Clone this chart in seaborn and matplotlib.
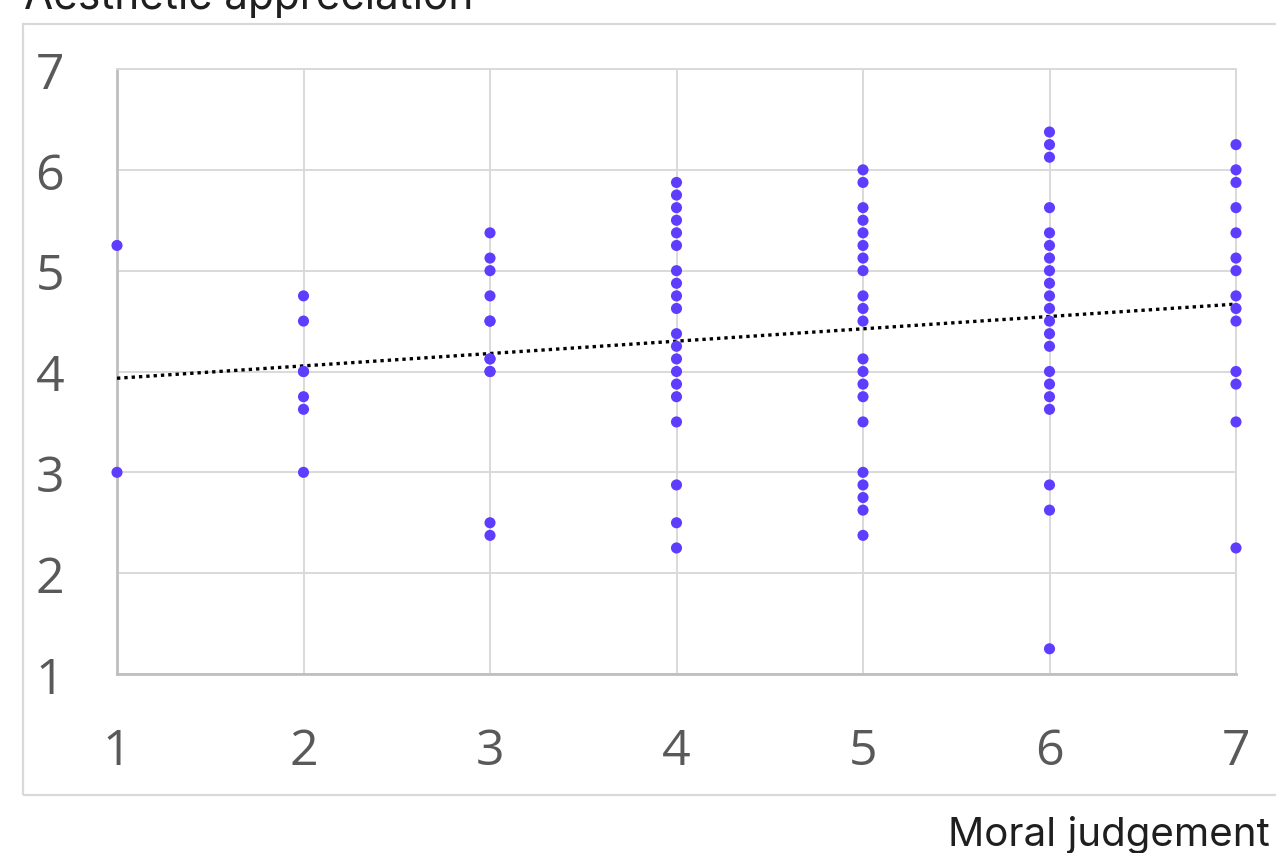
import numpy as np
import pandas as pd
import seaborn as sns
import matplotlib
matplotlib.use("Agg")
import matplotlib.pyplot as plt
from matplotlib.patches import Rectangle

# ---- data ----
moral_1 = [5.25, 3.0]
moral_2 = [4.75, 4.5, 4.0, 4.0, 3.75, 3.625, 3.0]
moral_3 = [5.375, 5.125, 5.0, 4.75, 4.5, 4.5, 4.125, 4.125, 4.0, 4.0, 2.5, 2.375]
moral_4 = [5.875, 5.75, 5.625, 5.5, 5.375, 5.25, 5.0, 4.875, 4.75, 4.625,
           4.375, 4.25, 4.125, 4.0, 3.875, 3.75, 3.5, 2.875, 2.5, 2.25]
moral_5 = [6.0, 5.875, 5.625, 5.5, 5.375, 5.25, 5.125, 5.0, 4.75, 4.625, 4.5,
           4.125, 4.0, 3.875, 3.75, 3.5, 3.0, 2.875, 2.75, 2.625, 2.375]
moral_6 = [6.375, 6.25, 6.125, 5.625, 5.375, 5.25, 5.125, 5.0, 4.875, 4.75,
           4.625, 4.5, 4.375, 4.25, 4.0, 3.875, 3.75, 3.625, 2.875, 2.625, 1.25]
moral_7 = [6.25, 6.0, 5.875, 5.625, 5.375, 5.125, 5.0, 4.75, 4.625, 4.5,
           4.0, 3.875, 3.5, 2.25]

columns = {1: moral_1, 2: moral_2, 3: moral_3, 4: moral_4,
           5: moral_5, 6: moral_6, 7: moral_7}
tick_values = [1, 2, 3, 4, 5, 6, 7]
x_label = "Moral judgement"
y_label = "Aesthetic appreciation"

rows = [(k, v) for k, vals in columns.items() for v in vals]
df = pd.DataFrame(rows, columns=["moral", "aesthetic"])

# ---- figure ----
sns.set_theme(style="white")
W, H = 1276, 854
fig = plt.figure(figsize=(W / 100, H / 100), dpi=100)
fig.patch.set_facecolor("white")

# outer frame (Excel chart area)
fig.patches.append(Rectangle((23 / W, 1 - 796 / H), (1300 - 23) / W, (796 - 25) / H,
                             transform=fig.transFigure, fill=False,
                             edgecolor="#d9d9d9", linewidth=1.6, zorder=0))

ax = fig.add_axes([117 / W, 1 - 675 / H, (1236 - 117) / W, (675 - 70) / H])

sns.regplot(data=df, x="moral", y="aesthetic", scatter=False, ci=None, ax=ax,
            line_kws=dict(color="black", linestyle=(0, (1, 1.2)), linewidth=2.4, zorder=4))
sns.scatterplot(data=df, x="moral", y="aesthetic", ax=ax, s=64, color="#5f3dff",
                edgecolor="none", zorder=5, clip_on=False)

ax.set_xlim(1, 7)
ax.set_ylim(1, 7)
ax.set_xticks(tick_values)
ax.set_yticks(tick_values)
ax.grid(True, color="#d9d9d9", linewidth=1.4)
ax.set_axisbelow(True)
for side in ["top", "right"]:
    ax.spines[side].set_color("#d9d9d9")
    ax.spines[side].set_linewidth(1.4)
for side in ["left", "bottom"]:
    ax.spines[side].set_color("#bfbfbf")
    ax.spines[side].set_linewidth(2.0)
ax.set_xlabel("")
ax.set_ylabel("")
ax.tick_params(axis="both", length=0, labelsize=36, labelcolor="#595959")
ax.tick_params(axis="x", pad=38)
ax.tick_params(axis="y", pad=38)
for lab in ax.get_xticklabels() + ax.get_yticklabels():
    lab.set_fontfamily(["Open Sans", "DejaVu Sans"])

fig.text(24 / W, 1 - 9 / H, y_label, ha="left", va="baseline", fontsize=30.5,
         color="#1f1f1f", family=["Inter", "DejaVu Sans"])
fig.text(1270 / W, 1 - 846 / H, x_label, ha="right", va="baseline", fontsize=29,
         color="#1f1f1f", family=["Inter", "DejaVu Sans"])

fig.savefig("out.png", dpi=100, facecolor="white")
